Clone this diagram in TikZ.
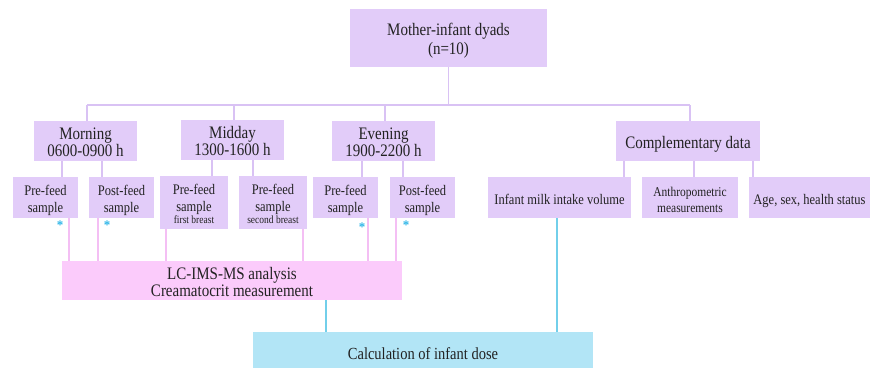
\documentclass[tikz,border=0pt]{standalone}
\usepackage{fontspec}
\setmainfont{Liberation Serif}
\usepackage{graphicx}
\definecolor{lav}{HTML}{E2CCF9}
\definecolor{lavline}{HTML}{D9C2F4}
\definecolor{pinkf}{HTML}{FBCBFB}
\definecolor{pinkline}{HTML}{F4BFF4}
\definecolor{cyanf}{HTML}{B2E5F6}
\definecolor{cyanline}{HTML}{72CFEA}
\definecolor{star}{HTML}{2BB5E8}
\definecolor{txt}{HTML}{222222}
\newcommand\vs[1]{\raisebox{-3.5pt}[\height][\depth]{\scalebox{1}[1.17]{\begin{tabular}{@{}c@{}}#1\end{tabular}}}}
\tikzset{
  box/.style={inner sep=0pt, outer sep=0pt, align=center, text=txt},
  lbox/.style={box, fill=lav},
  pbox/.style={box, fill=pinkf},
  cbox/.style={box, fill=cyanf},
  big/.style={font=\fontsize{15}{14.5}\selectfont},
  mid/.style={font=\fontsize{12.5}{14.3}\selectfont},
  sml/.style={font=\fontsize{11.5}{13.7}\selectfont},
  lline/.style={draw=lavline, line width=1.6pt},
  pline/.style={draw=pinkline, line width=1.6pt},
  cline/.style={draw=cyanline, line width=1.6pt},
  starmark/.style={inner sep=0pt, text=star, font=\fontsize{13}{13}\selectfont\bfseries}
}
\begin{document}
\begin{tikzpicture}[x=1pt,y=-1pt]
\useasboundingbox (0,0) rectangle (870,368);
\fill[white] (0,0) rectangle (870,368);

% boxes
\node[lbox, big, minimum width=197pt, minimum height=58pt] (top) at (448.5,38) {\vs{Mother-infant dyads\\[1pt](n=10)}};
\node[lbox, big, minimum width=103pt, minimum height=40pt] (morning) at (85.5,141) {\vs{Morning\\0600-0900 h}};
\node[lbox, big, minimum width=103pt, minimum height=40pt] (midday) at (232.5,140) {\vs{Midday\\1300-1600 h}};
\node[lbox, big, minimum width=103pt, minimum height=40pt] (evening) at (383.5,141) {\vs{Evening\\1900-2200 h}};
\node[lbox, big, minimum width=144pt, minimum height=40pt] (comp) at (688,141) {\vs{Complementary data}};

\node[lbox, mid, minimum width=65pt, minimum height=41pt] (pre1) at (45.5,197.5) {\vs{Pre-feed\\sample}};
\node[lbox, mid, minimum width=65pt, minimum height=41pt] (post1) at (121.5,197.5) {\vs{Post-feed\\sample}};
\node[lbox, mid, minimum width=68pt, minimum height=53pt] (mid1) at (194,202.5) {\vs{Pre-feed\\sample\\[-4pt]{\fontsize{9.5}{10}\selectfont first breast}}};
\node[lbox, mid, minimum width=68pt, minimum height=53pt] (mid2) at (273,202.5) {\vs{Pre-feed\\sample\\[-4pt]{\fontsize{9.5}{10}\selectfont second breast}}};
\node[lbox, mid, minimum width=65pt, minimum height=41pt] (pre3) at (345.5,197.5) {\vs{Pre-feed\\sample}};
\node[lbox, mid, minimum width=65pt, minimum height=41pt] (post3) at (422.5,197.5) {\vs{Post-feed\\sample}};

\node[lbox, mid, minimum width=143pt, minimum height=41pt] (infant) at (559.5,197.5) {\vs{Infant milk intake volume}};
\node[lbox, sml, minimum width=96pt, minimum height=41pt] (anthro) at (690,197.5) {\vs{Anthropometric\\measurements}};
\node[lbox, mid, minimum width=121pt, minimum height=41pt] (age) at (809.5,197.5) {\vs{Age, sex, health status}};

\node[pbox, big, minimum width=340pt, minimum height=39pt] (lc) at (232,280.5) {\vs{LC-IMS-MS analysis\\Creamatocrit measurement}};
\node[cbox, font=\fontsize{14.5}{14}\selectfont, minimum width=340pt, minimum height=36pt] (calc) at (423,350) {\raisebox{-2.5pt}[\height][\depth]{\vs{Calculation of infant dose}}};

% x positions
\coordinate (busL) at (87,105);
\coordinate (busR) at (690,105);
\coordinate (xa) at (62,0);
\coordinate (xb) at (102,0);
\coordinate (xc) at (212,0);
\coordinate (xd) at (253,0);
\coordinate (xe) at (362,0);
\coordinate (xf) at (403,0);
\coordinate (xg) at (624,0);
\coordinate (xh) at (694,0);
\coordinate (xi) at (753,0);
\coordinate (pa) at (69,0);
\coordinate (pb) at (98,0);
\coordinate (pc) at (166,0);
\coordinate (pd) at (303,0);
\coordinate (pe) at (368,0);
\coordinate (pf) at (396,0);
\coordinate (ca) at (326,0);
\coordinate (cb) at (557,0);
\coordinate (dm) at (234,0);
\coordinate (de) at (385,0);

% top tree
\draw[lline] (top.south) -- (top.south |- busL);
\draw[lline] (busL) -- (busR);
\draw[lline] (busL) -- (busL |- morning.north);
\draw[lline] (busL -| dm) -- (midday.north -| dm);
\draw[lline] (busL -| de) -- (evening.north -| de);
\draw[lline] (busR) -- (busR |- comp.north);

% row1 -> row2
\draw[lline] (morning.south -| xa) -- (pre1.north -| xa);
\draw[lline] (morning.south -| xb) -- (post1.north -| xb);
\draw[lline] (midday.south -| xc) -- (mid1.north -| xc);
\draw[lline] (midday.south -| xd) -- (mid2.north -| xd);
\draw[lline] (evening.south -| xe) -- (pre3.north -| xe);
\draw[lline] (evening.south -| xf) -- (post3.north -| xf);
\draw[lline] (comp.south -| xg) -- (infant.north -| xg);
\draw[lline] (comp.south -| xh) -- (anthro.north -| xh);
\draw[lline] (comp.south -| xi) -- (age.north -| xi);

% row2 -> LC
\draw[pline] (pre1.south -| pa) -- (lc.north -| pa);
\draw[pline] (post1.south -| pb) -- (lc.north -| pb);
\draw[pline] (mid1.south -| pc) -- (lc.north -| pc);
\draw[pline] (mid2.south -| pd) -- (lc.north -| pd);
\draw[pline] (pre3.south -| pe) -- (lc.north -| pe);
\draw[pline] (post3.south -| pf) -- (lc.north -| pf);

% to calc
\draw[cline] (lc.south -| ca) -- (calc.north -| ca);
\draw[cline] (infant.south -| cb) -- (calc.north -| cb);

% asterisks
\node[starmark] (s1) at (60,225) {*};
\node[starmark] (s2) at (107,225) {*};
\node[starmark] (s3) at (362,227) {*};
\node[starmark] (s4) at (406,225) {*};
\end{tikzpicture}
\end{document}
